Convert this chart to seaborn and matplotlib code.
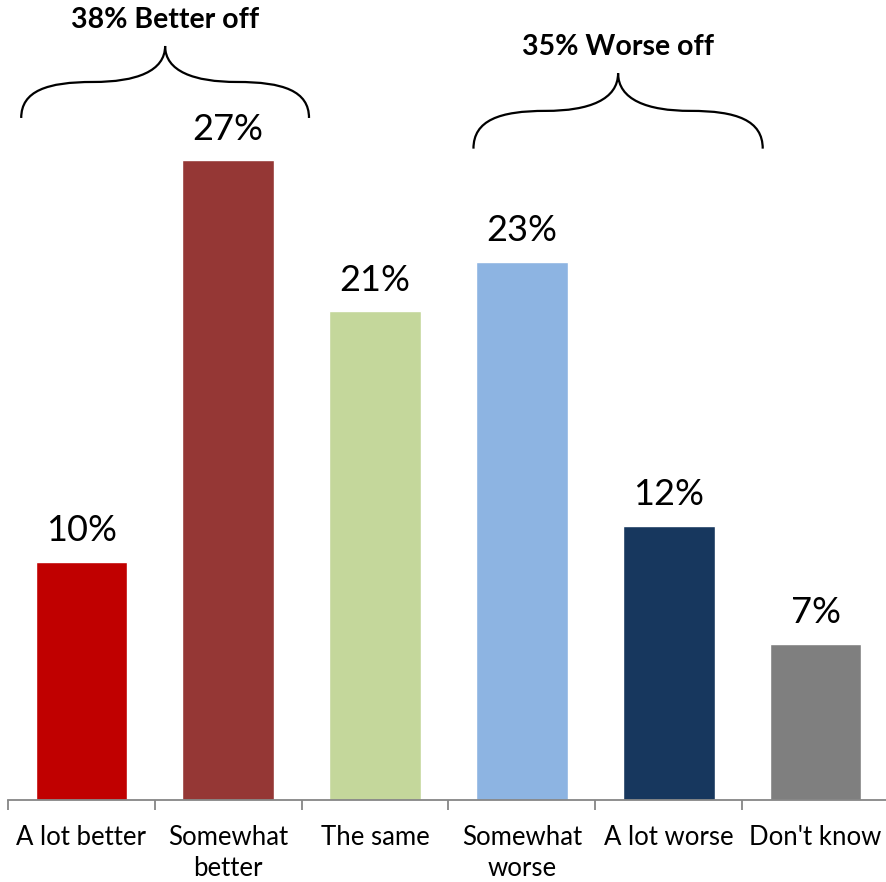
import matplotlib
matplotlib.use("Agg")
import matplotlib.pyplot as plt
from matplotlib.path import Path
from matplotlib.patches import PathPatch
import seaborn as sns
import numpy as np

categories = ["A lot better", "Somewhat\nbetter", "The same", "Somewhat\nworse", "A lot worse", "Don't know"]
values = [10.1, 27.1, 20.7, 22.8, 11.6, 6.6]
colors = ["#C00000", "#953735", "#C4D79B", "#8DB4E2", "#17375E", "#7F7F7F"]
groups = [("38% Better off", 0, 1), ("35% Worse off", 3, 4)]

sns.set_theme(style="white")
plt.rcParams["font.family"] = ["Lato", "DejaVu Sans"]

fig = plt.figure(figsize=(8.86, 8.82), dpi=100)
ax = fig.add_axes([8 / 886, 1 - 800 / 882, 881 / 886, 800 / 882])

sns.barplot(x=categories, y=values, hue=categories, palette=colors, legend=False,
            width=0.625, saturation=1, ax=ax)

ax.set_xlim(-0.5, 5.5)
ax.set_ylim(0, 800 / 23.6)

for s in ["top", "right", "left"]:
    ax.spines[s].set_visible(False)
ax.spines["bottom"].set_color("#868686")
ax.spines["bottom"].set_linewidth(1.3)
ax.set_yticks([])
ax.set_xlabel("")
ax.set_ylabel("")

ax.set_xticks(np.arange(len(categories)))
ax.set_xticklabels(categories, fontsize=18.5, color="#000000", linespacing=1.3)
ax.tick_params(axis="x", which="major", length=0, pad=18, bottom=True)
ax.set_xticks(np.arange(-0.5, len(categories), 1.0), minor=True)
ax.tick_params(axis="x", which="minor", bottom=True, length=7.5, width=1.3,
               color="#868686", direction="out")

for i, v in enumerate(values):
    ax.annotate(f"{v:.0f}%", xy=(i, v), xytext=(0, 15), textcoords="offset points",
                ha="center", va="baseline", fontsize=26, color="#000000")


def brace(ax, xl, xr, yb, yt):
    xc = (xl + xr) / 2
    hw = (xr - xl) / 2
    ym = yb + (yt - yb) * 0.5
    xq1 = xl + hw * 0.5
    xq2 = xr - hw * 0.5
    verts = [
        (xl, yb), (xl, yb + (ym - yb) * 0.75), (xl + hw * 0.18, ym), (xq1, ym),
        (xc - hw * 0.2, ym), (xc, ym + (yt - ym) * 0.3), (xc, yt),
        (xc, ym + (yt - ym) * 0.3), (xc + hw * 0.2, ym), (xq2, ym),
        (xr - hw * 0.18, ym), (xr, yb + (ym - yb) * 0.75), (xr, yb),
    ]
    codes = [Path.MOVETO] + [Path.CURVE4] * 12
    p = PathPatch(Path(verts, codes), facecolor="none", edgecolor="black", lw=1.6,
                  clip_on=False)
    ax.add_patch(p)
    return xc


for (label, a, b), yb, xo in zip(groups, [28.9, 27.6], [(-0.41, 0.55), (-0.33, 0.64)]):
    xl = a + xo[0]
    xr = b + xo[1]
    yt = yb + 3.05 if a == 0 else yb + 3.2
    xc = brace(ax, xl, xr, yb, yt)
    ax.text(xc, yt + 1.1, label, ha="center", va="center", fontsize=20.5,
            fontweight="bold", color="#000000")

fig.savefig("out.png", dpi=100)
